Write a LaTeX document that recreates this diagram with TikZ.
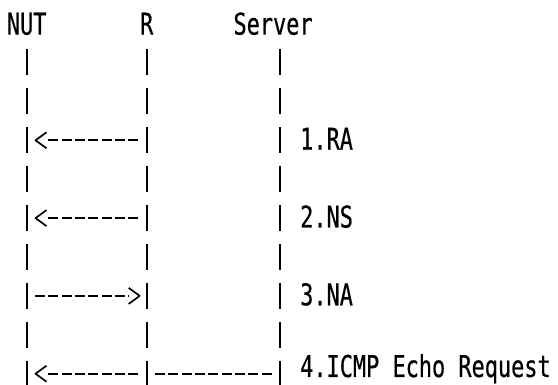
\documentclass[tikz,border=0pt]{standalone}
\usepackage{fontspec}
\newfontfamily\asciifont[FakeStretch=0.73,FakeBold=0.5]{DejaVu Sans Mono}
\usetikzlibrary{arrows.meta}

% 開いた山形の矢じり（線は矢じりの手前で止まる）
\pgfdeclarearrow{
  name = Chevron,
  parameters = {\the\pgfarrowlength,\the\pgfarrowwidth},
  setup code = {
    \pgfarrowssettipend{0pt}
    \pgfarrowssetlineend{-\pgfarrowlength}
    \pgfarrowssetbackend{-\pgfarrowlength}
    \pgfarrowshullpoint{0pt}{0pt}
    \pgfarrowsupperhullpoint{-\pgfarrowlength}{.5\pgfarrowwidth}
    \pgfarrowssavethe\pgfarrowlength
    \pgfarrowssavethe\pgfarrowwidth
  },
  drawing code = {
    \pgfsetdash{}{0pt}
    \pgfsetroundjoin
    \pgfpathmoveto{\pgfqpoint{-\pgfarrowlength}{.5\pgfarrowwidth}}
    \pgfpathlineto{\pgfpointorigin}
    \pgfpathlineto{\pgfqpoint{-\pgfarrowlength}{-.5\pgfarrowwidth}}
    \pgfusepathqstroke
  },
  defaults = {length=11pt, width=16pt}
}

\begin{document}
\begin{tikzpicture}[x=1pt,y=-1pt,
  every node/.style={font=\asciifont\fontsize{30}{36}\selectfont, inner sep=0pt},
  bar/.style={line width=2.2pt},
  msg/.style={line width=1.7pt, dash pattern=on 10pt off 3.33pt},
  tomsg/.style={msg, -{Chevron}}]
\useasboundingbox (0,0) rectangle (558,385);

% 見出し
\node[anchor=base] (nut) at (26.7,34.6) {NUT};
\node[anchor=base] (r) at (146.7,34.6) {R};
\node[anchor=base west] (server) at (233.3,34.6) {Server};

% 縦線
\foreach \k in {1,...,9}
  \foreach \x in {26.7,146.7,280}
    \draw[bar] (\x,{23.6+38.9*\k-13}) -- ++(0,26);

% メッセージの端点
\foreach \k in {3,5,7,9} {
  \coordinate (n\k) at (26.7,{23.6+38.9*\k});
  \coordinate (r\k) at (146.7,{23.6+38.9*\k});
  \coordinate (s\k) at (280,{23.6+38.9*\k});
}

% メッセージ
\draw[tomsg, shorten <=8.4pt, shorten >=8.8pt] (r3) -- (n3);
\draw[tomsg, shorten <=8.4pt, shorten >=8.8pt] (r5) -- (n5);
\draw[tomsg, shorten <=8.3pt, shorten >=7pt] (n7) -- (r7);
\draw[msg, shorten <=8.3pt, shorten >=8.3pt] (s9) -- (r9);
\draw[tomsg, shorten <=8.4pt, shorten >=8.8pt] (r9) -- (n9);

% ラベル
\node[anchor=base west] (ra) at (300,{33+38.9*3}) {1.RA};
\node[anchor=base west] (ns) at (300,{33+38.9*5}) {2.NS};
\node[anchor=base west] (na) at (300,{33+38.9*7}) {3.NA};
\node[anchor=base west] (echo) at (300,377) {4.ICMP Echo Request};
\end{tikzpicture}
\end{document}
